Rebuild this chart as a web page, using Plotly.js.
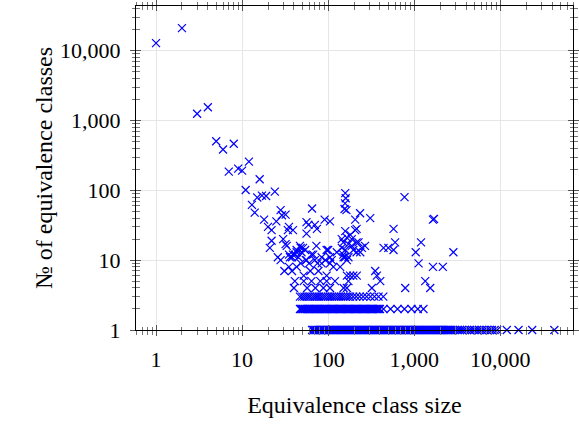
<!DOCTYPE html>
<html><head><meta charset="utf-8">
<script src="https://cdn.plot.ly/plotly-3.0.1.min.js"></script>
<style>html,body{margin:0;padding:0;background:#fff}#chart{width:579px;height:424px}</style>
</head><body><div id="chart"></div>
<script>
const tickValues = [1, 10, 100, 1000, 10000];
const tickLabels = ['1', '10', '100', '1,000', '10,000'];
const xTitle = 'Equivalence class size';
const yTitle = '№ of equivalence classes';

// scattered classes: size and number of classes of that size
const scatterSizes = [
  1, 2, 3, 4, 5, 6, 8, 7, 9, 10, 12, 16, 11,
  15, 17, 19, 24, 13, 14, 18, 20, 22, 25, 28, 29, 32, 35, 39, 34, 56, 59, 70, 74, 22, 21, 30, 32, 26, 35, 39, 43, 47, 49, 51, 54, 56, 65, 91, 105, 67, 105, 100, 36, 41, 45,
  158, 160, 157, 155, 163, 206, 235, 308, 214, 158, 181, 206, 165, 188, 150, 172, 214, 196, 158, 246, 144, 188, 214, 172, 150, 225, 268,
  771, 1650, 1700, 575, 600, 575, 440, 500, 1200, 1040, 2850,
  31, 35, 38, 43, 52, 62, 77, 96, 115, 138,
  40, 57, 71, 88, 105, 41, 52, 64, 81, 96, 120,
  28, 33, 38, 43, 48, 56, 64, 73, 84, 96, 110, 126, 144, 157,
  165, 180, 196, 215, 172, 165, 151, 352, 368, 403, 322, 786, 1123, 1650, 2150, 1343, 1535, 151, 165, 236,
  105, 93, 84, 60, 70, 48, 55, 75
];
const scatterCounts = [
  12800, 21000, 1250, 1550, 505, 385, 465, 185, 205, 192, 258, 144, 101,
  79, 84, 83, 96, 62, 48, 38, 30, 27, 36, 52, 44, 45, 30, 27, 27, 35, 32, 32, 28, 19, 15, 20, 17, 11, 12, 12, 14, 16, 13, 15, 14, 24, 55, 38, 36, 12, 11, 14, 11, 12, 11,
  91, 77, 65, 54, 52, 38, 47, 40, 28, 26, 23, 27, 21, 20, 18, 17, 18, 14, 14, 15, 20, 16, 13, 11, 12, 18, 16,
  80, 38, 39, 28, 18, 14, 15, 15, 18, 13, 13,
  7, 8, 7, 8, 6, 7, 7, 6, 8, 8,
  4, 4, 4, 4, 4, 5, 5, 5, 5, 5, 5,
  10, 16, 11, 13, 15, 10, 12, 16, 11, 14, 10, 13, 15, 11,
  6, 6, 6, 6, 5, 4, 4, 7, 6, 5, 4, 4, 9, 8, 8, 5, 4, 11, 10, 13,
  9, 10, 9, 9, 10, 9, 10, 9
];

// rows of classes whose count is 1, 2 and 3
const rowCounts = [1, 2, 3];
const row1Sizes = [
  65, 67, 69, 71, 73, 75, 77, 80, 82, 85, 87, 90, 93, 95, 98, 101, 104, 107, 110, 114, 117, 121, 124, 128, 132, 136, 140, 144, 148, 153, 157, 162, 167, 172, 177, 182, 188, 193, 199, 205, 211, 218, 224, 231, 238, 245, 252, 260, 268, 276, 284, 293, 301, 310, 320, 329, 339, 349, 360, 371, 382, 393, 405, 417, 430, 443, 456, 470, 484, 498, 513, 529, 545, 561, 578, 595, 613, 632, 651, 670, 690, 711, 732, 754, 777, 800, 824, 849, 875, 901, 928, 956, 985, 1014, 1045, 1076, 1108, 1141, 1176, 1211, 1247, 1285, 1323, 1363, 1404, 1446, 1489, 1534, 1580, 1628, 1677, 1727, 1779, 1832, 1887, 1944, 2002, 2062, 2124, 2188, 2254, 2321, 2391, 2463, 2537, 2613,
  2700, 2850, 3000, 3200, 3400, 3600, 3850, 4100, 4400, 4700, 5000, 5350, 5700, 6100, 6500, 7000, 7500, 8000, 8600, 9200,
  11900, 16300, 23500, 42500
];
const row2Sizes = [
  47, 48, 50, 51, 53, 54, 56, 58, 60, 62, 64, 66, 68, 70, 72, 74, 76, 79, 81, 84, 86, 89, 92, 95, 98, 101, 104, 107, 110, 114, 117, 121, 125, 129, 133, 137, 141, 146, 150, 155, 160, 165, 170, 175, 181, 186, 192, 198, 204, 210, 217, 224, 231, 238, 245, 253, 261, 269, 277, 286, 295, 304, 313, 323, 333, 343, 354, 365, 376, 388, 400,
  440, 530, 640, 770, 930, 1100, 1280
];
const row3Sizes = [
  47, 50, 53, 56, 59, 62, 66, 70, 74, 78, 83, 88, 93, 99, 105, 111, 118, 125, 133, 141, 150, 159, 169, 180, 195, 212, 232, 255, 280, 310, 345, 385, 437
];

const allX = scatterSizes.concat(row1Sizes, row2Sizes, row3Sizes);
const allY = scatterCounts
  .concat(row1Sizes.map(() => rowCounts[0]))
  .concat(row2Sizes.map(() => rowCounts[1]))
  .concat(row3Sizes.map(() => rowCounts[2]));

const minorVals = [];
[0.1, 1, 10, 100, 1000, 10000].forEach(d => { for (let m = 2; m <= 9; m++) minorVals.push(m * d); });

const fam = 'Liberation Serif';
const xRange = [-0.233, 4.845];
const yRange = [0, 4.64];

const trace = {
  type: 'scatter', mode: 'markers', x: allX, y: allY, cliponaxis: false,
  marker: {symbol: 'x-thin', size: 8, color: '#0000ff', line: {color: '#0000ff', width: 1.2}},
  showlegend: false, hoverinfo: 'skip'
};
const dummy = {type: 'scatter', mode: 'markers', x: [], y: [], xaxis: 'x2', yaxis: 'y2', showlegend: false, hoverinfo: 'skip'};

function baseAxis(range, inside) {
  return {
    type: 'log', range: range, tickmode: 'array', tickvals: tickValues, ticktext: tickLabels,
    ticks: inside ? 'inside' : 'outside', ticklen: 5, tickwidth: 1, tickcolor: '#555',
    mirror: 'ticks', showline: true, linecolor: '#000', linewidth: 1, zeroline: false,
    minor: {tickmode: 'array', tickvals: minorVals, ticks: inside ? 'inside' : 'outside', ticklen: 3.5, tickwidth: 1, tickcolor: '#777', showgrid: false},
    automargin: false
  };
}

const xaxis = Object.assign(baseAxis(xRange, true), {
  showgrid: true, gridcolor: '#e6e6e6', gridwidth: 1,
  tickfont: {family: fam, size: 22, color: '#000'}, ticklabelstandoff: 10,
  title: {text: xTitle, font: {family: fam, size: 24, color: '#000'}, standoff: 24}
});
const yaxis = Object.assign(baseAxis(yRange, true), {
  showgrid: true, gridcolor: '#e6e6e6', gridwidth: 1,
  tickfont: {family: fam, size: 22, color: '#000'}, ticklabelstandoff: 10,
  title: {text: yTitle, font: {family: fam, size: 24, color: '#000'}, standoff: 0}
});
const xaxis2 = Object.assign(baseAxis(xRange, false), {overlaying: 'x', anchor: 'y', side: 'bottom', showticklabels: false, showgrid: false});
const yaxis2 = Object.assign(baseAxis(yRange, false), {overlaying: 'y', anchor: 'x', side: 'left', showticklabels: false, showgrid: false});

const layout = {
  width: 579, height: 424,
  margin: {l: 136, r: 6, t: 6, b: 94},
  paper_bgcolor: '#fff', plot_bgcolor: '#fff',
  font: {family: fam},
  xaxis: xaxis, yaxis: yaxis, xaxis2: xaxis2, yaxis2: yaxis2
};
Plotly.newPlot('chart', [dummy, trace], layout, {staticPlot: true, displayModeBar: false});
</script>
</body></html>
